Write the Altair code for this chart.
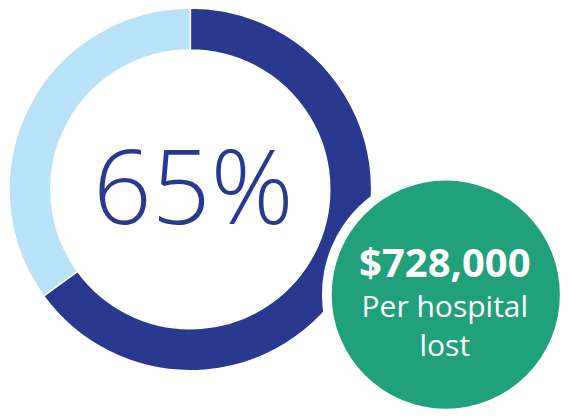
import altair as alt
import pandas as pd

# data
categories = ["Share", "Rest"]
values = [65, 35]
order = [0, 1]
colors = ["#29398f", "#b9e3f8"]
money_lines = ["$728,000"]
sub_lines = ["Per hospital", "lost"]

S = 0.975
CX, CY = 187 * S, 186 * S
GX, GY = 449 * S, 294 * S

donut_df = pd.DataFrame({"cat": categories, "value": values, "order": order})

donut = alt.Chart(donut_df).mark_arc(
    outerRadius=186 * S, innerRadius=143 * S, stroke="white", strokeWidth=1.5
).encode(
    theta=alt.Theta("value:Q", stack=True),
    order=alt.Order("order:Q"),
    color=alt.Color("cat:N", scale=alt.Scale(domain=categories, range=colors), legend=None),
    x=alt.value(CX),
    y=alt.value(CY),
)

center_df = pd.DataFrame({"t": [f"{values[0]}%"]})
center_text = alt.Chart(center_df).mark_text(
    font="Open Sans", fontWeight=300, fontSize=103, color=colors[0],
    align="center", baseline="alphabetic"
).encode(text="t:N", x=alt.value(190 * S), y=alt.value(222 * S))

dot_df = pd.DataFrame({"k": [1]})
white_circle = alt.Chart(dot_df).mark_circle(
    color="white", opacity=1, size=(2 * 127 * S) ** 2
).encode(x=alt.value(GX), y=alt.value(GY))
green_circle = alt.Chart(dot_df).mark_circle(
    color="#21a07c", opacity=1, size=(2 * 117 * S) ** 2
).encode(x=alt.value(GX), y=alt.value(GY))

money_df = pd.DataFrame({"t": money_lines})
money = alt.Chart(money_df).mark_text(
    font="Open Sans", fontWeight="bold", fontSize=40, color="white",
    align="center", baseline="alphabetic"
).encode(text="t:N", x=alt.value(448 * S), y=alt.value(276 * S))

sub_df = pd.DataFrame({"t": sub_lines, "yy": [317 * S, 357 * S]})
sub = alt.Chart(sub_df).mark_text(
    font="Open Sans", fontSize=30, color="white",
    align="center", baseline="alphabetic"
).encode(text="t:N", x=alt.value(448 * S), y=alt.Y("yy:Q", scale=None, axis=None))

chart = alt.layer(donut, center_text, white_circle, green_circle, money, sub).properties(
    width=563, height=404, autosize=alt.AutoSizeParams(type="none"), padding=0
).configure_view(stroke=None)

chart.save("out.html", embed_options={"renderer": "svg", "actions": False})
